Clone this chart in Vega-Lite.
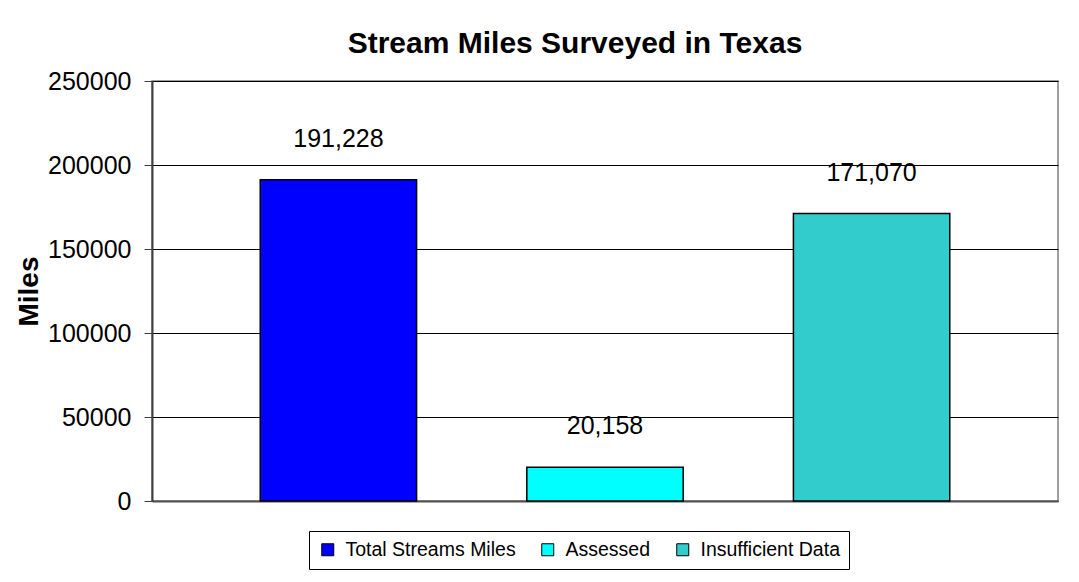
{
  "$schema": "https://vega.github.io/schema/vega-lite/v6.json",
  "autosize": {"type": "none"},
  "padding": {"left": 152, "top": 81, "right": 21, "bottom": 81},
  "width": 906,
  "height": 420,
  "background": "white",
  "title": {
    "text": "Stream Miles Surveyed in Texas",
    "font": "Liberation Sans",
    "fontSize": 30,
    "fontWeight": "bold",
    "color": "black",
    "anchor": "middle",
    "dx": -30,
    "offset": 10
  },
  "data": {
    "values": [
      {"category": "Total Streams Miles", "miles": 191228},
      {"category": "Assessed", "miles": 20158},
      {"category": "Insufficient Data", "miles": 171070}
    ]
  },
  "encoding": {
    "x": {
      "field": "category",
      "type": "nominal",
      "sort": ["Total Streams Miles", "Assessed", "Insufficient Data"],
      "scale": {"paddingInner": 0.4135, "paddingOuter": 0.406},
      "axis": {"labels": false, "ticks": false, "title": null, "domainColor": "#505050", "domainWidth": 2}
    },
    "y": {
      "field": "miles",
      "type": "quantitative",
      "scale": {"domain": [0, 250000], "nice": false},
      "axis": {
        "values": [0, 50000, 100000, 150000, 200000, 250000],
        "format": "d",
        "title": "Miles",
        "titleFont": "Liberation Sans",
        "titleFontSize": 28,
        "titleFontWeight": "bold",
        "titleColor": "black",
        "titlePadding": 4,
        "labelFont": "Liberation Sans",
        "labelFontSize": 25,
        "labelColor": "black",
        "labelPadding": 13,
        "tickSize": 8,
        "tickColor": "#404040",
        "domainColor": "#404040",
        "domainWidth": 2,
        "grid": true,
        "gridColor": "black",
        "gridWidth": 1
      }
    }
  },
  "layer": [
    {
      "mark": {"type": "bar", "stroke": "black", "strokeWidth": 1.5},
      "encoding": {
        "color": {
          "field": "category",
          "type": "nominal",
          "sort": ["Total Streams Miles", "Assessed", "Insufficient Data"],
          "scale": {
            "domain": ["Total Streams Miles", "Assessed", "Insufficient Data"],
            "range": ["#0000FF", "#00FFFF", "#33CCCC"]
          },
          "legend": {
            "title": null,
            "orient": "none",
            "direction": "horizontal",
            "gridAlign": "none",
            "legendX": 157,
            "legendY": 450,
            "symbolType": "square",
            "symbolSize": 144,
            "symbolStrokeColor": "black",
            "symbolStrokeWidth": 1,
            "symbolOpacity": 1,
            "labelFont": "Liberation Sans",
            "labelFontSize": 19.5,
            "labelLimit": 400,
            "labelColor": "black",
            "labelOffset": 8,
            "columnPadding": 22,
            "padding": 9,
            "strokeColor": "black",
            "fillColor": "white"
          }
        }
      }
    },
    {
      "mark": {"type": "text", "dy": -33, "baseline": "alphabetic", "font": "Liberation Sans", "fontSize": 25, "color": "black"},
      "encoding": {
        "text": {"field": "miles", "type": "quantitative", "format": ","}
      }
    }
  ],
  "config": {
    "view": {"stroke": "#808080", "strokeWidth": 1.5}
  }
}
